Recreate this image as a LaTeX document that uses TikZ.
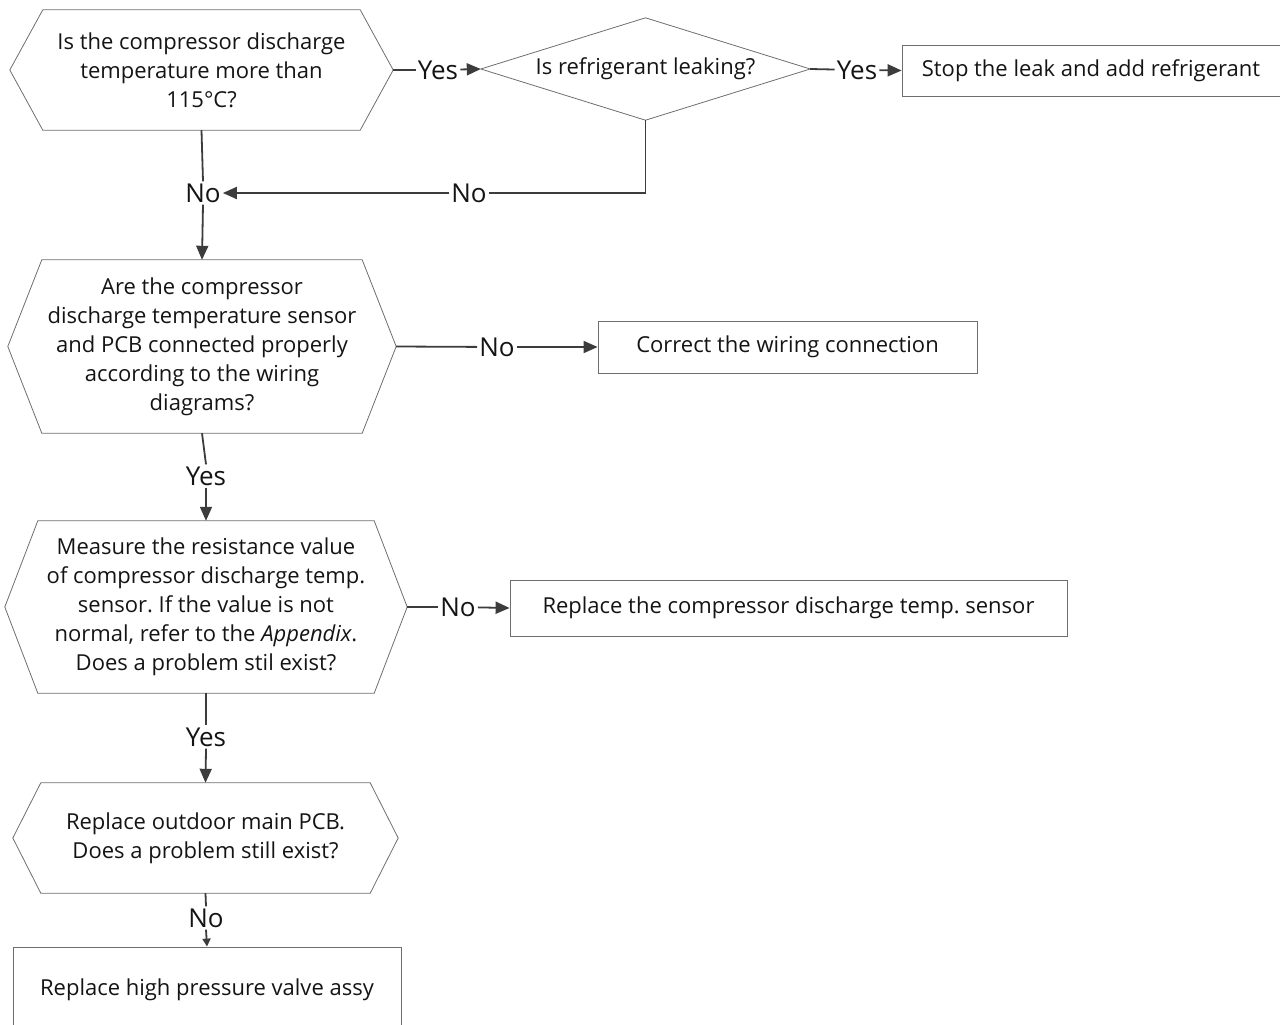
\documentclass[tikz,border=0pt]{standalone}
\usepackage{fontspec}
\setmainfont{Open Sans}
\usetikzlibrary{arrows.meta}
\definecolor{linegray}{HTML}{3C3C3C}
\definecolor{framegray}{HTML}{6E6E6E}
\frenchspacing

\begin{document}
\begin{tikzpicture}[x=1pt,y=-1pt,
  every node/.style={font=\fontsize{22}{29}\selectfont, text=black!92, align=center},
  qbox/.style={inner sep=0pt},
  abox/.style={draw=framegray, line width=0.8pt, inner sep=0pt},
  lbl/.style={font=\fontsize{26}{30}\selectfont, inner sep=2pt},
  link/.style={draw=linegray, line width=1.8pt},
  arr/.style={link, -{Triangle[length=14pt,width=12pt]}},
  frame/.style={draw=framegray, line width=0.8pt, line join=miter}]
\useasboundingbox (0,0) rectangle (1280,1025);

% questions
\node[qbox, minimum width=383pt, minimum height=120pt] (hot) at (201.5,70)
  {Is the compressor discharge\\temperature more than\\115°C?};
\draw[frame] (hot.west) -- ([xshift=33pt]hot.north west) -- ([xshift=-33pt]hot.north east) -- (hot.east) -- ([xshift=-33pt]hot.south east) -- ([xshift=33pt]hot.south west) -- cycle;
\node[qbox, minimum width=329pt, minimum height=102pt] (leak) at (645.5,69)
  {Is refrigerant leaking?};
\draw[frame] (leak.west) -- (leak.north) -- (leak.east) -- (leak.south) -- cycle;
\node[qbox, minimum width=388pt, minimum height=173pt] (wiring) at (202,346.5)
  {Are the compressor\\discharge temperature sensor\\and PCB connected properly\\according to the wiring\\diagrams?};
\draw[frame] (wiring.west) -- ([xshift=34pt]wiring.north west) -- ([xshift=-34pt]wiring.north east) -- (wiring.east) -- ([xshift=-34pt]wiring.south east) -- ([xshift=34pt]wiring.south west) -- cycle;
\node[qbox, minimum width=402pt, minimum height=172pt] (resist) at (206,607)
  {Measure the resistance value\\of compressor discharge temp.\\sensor. If the value is not\\normal, refer to the \emph{Appendix}.\\Does a problem stil exist?};
\draw[frame] (resist.west) -- ([xshift=33pt]resist.north west) -- ([xshift=-33pt]resist.north east) -- (resist.east) -- ([xshift=-33pt]resist.south east) -- ([xshift=33pt]resist.south west) -- cycle;
\node[qbox, minimum width=385pt, minimum height=110pt] (pcb) at (205.5,838)
  {Replace outdoor main PCB.\\Does a problem still exist?};
\draw[frame] (pcb.west) -- ([xshift=28pt]pcb.north west) -- ([xshift=-28pt]pcb.north east) -- (pcb.east) -- ([xshift=-28pt]pcb.south east) -- ([xshift=28pt]pcb.south west) -- cycle;

% actions
\node[abox, minimum width=378pt, minimum height=51pt] (stop) at (1091,70.5)
  {Stop the leak and add refrigerant};
\node[abox, minimum width=379pt, minimum height=52pt] (fixwire) at (787.5,347)
  {Correct the wiring connection};
\node[abox, minimum width=557pt, minimum height=56pt] (newsensor) at (788.5,608)
  {Replace the compressor discharge temp. sensor};
\node[abox, minimum width=388pt, minimum height=86pt] (valve) at (207,990)
  {Replace high pressure valve assy};

% labels
\node[lbl] (yes1) at (438,70) {Yes};
\node[lbl] (yes2) at (857,70) {Yes};
\node[lbl] (no1) at (469,193) {No};
\node[lbl] (no2) at (203,193) {No};
\node[lbl] (no3) at (497,347) {No};
\node[lbl] (yes3) at (206,476) {Yes};
\node[lbl] (no4) at (458,607) {No};
\node[lbl] (yes4) at (206,737) {Yes};
\node[lbl] (no5) at (206,918) {No};

% connectors
\draw[link] (hot.east) -- (yes1);
\draw[arr] (yes1) -- (leak.west);
\draw[link] (leak.east) -- (yes2);
\draw[arr] (yes2) -- (stop.west);
\draw[link] (leak.south) |- (no1);
\draw[arr] (no1) -- (no2);
\draw[link] (hot.south) -- (no2.north);
\draw[arr] (no2.south) -- (wiring.north);
\draw[link] (wiring.east) -- (no3);
\draw[arr] (no3) -- (fixwire.west);
\draw[link] (wiring.south) -- (yes3.north);
\draw[arr] (yes3.south) -- (resist.north);
\draw[link] (resist.east) -- (no4);
\draw[arr] (no4) -- (newsensor.west);
\draw[link] (resist.south) -- (yes4.north);
\draw[arr] (yes4.south) -- (pcb.north);
\draw[link] (pcb.south) -- (no5.north);
\draw[link, -{Triangle[length=8pt,width=8pt]}] (no5.south) -- (valve.north);
\end{tikzpicture}
\end{document}
